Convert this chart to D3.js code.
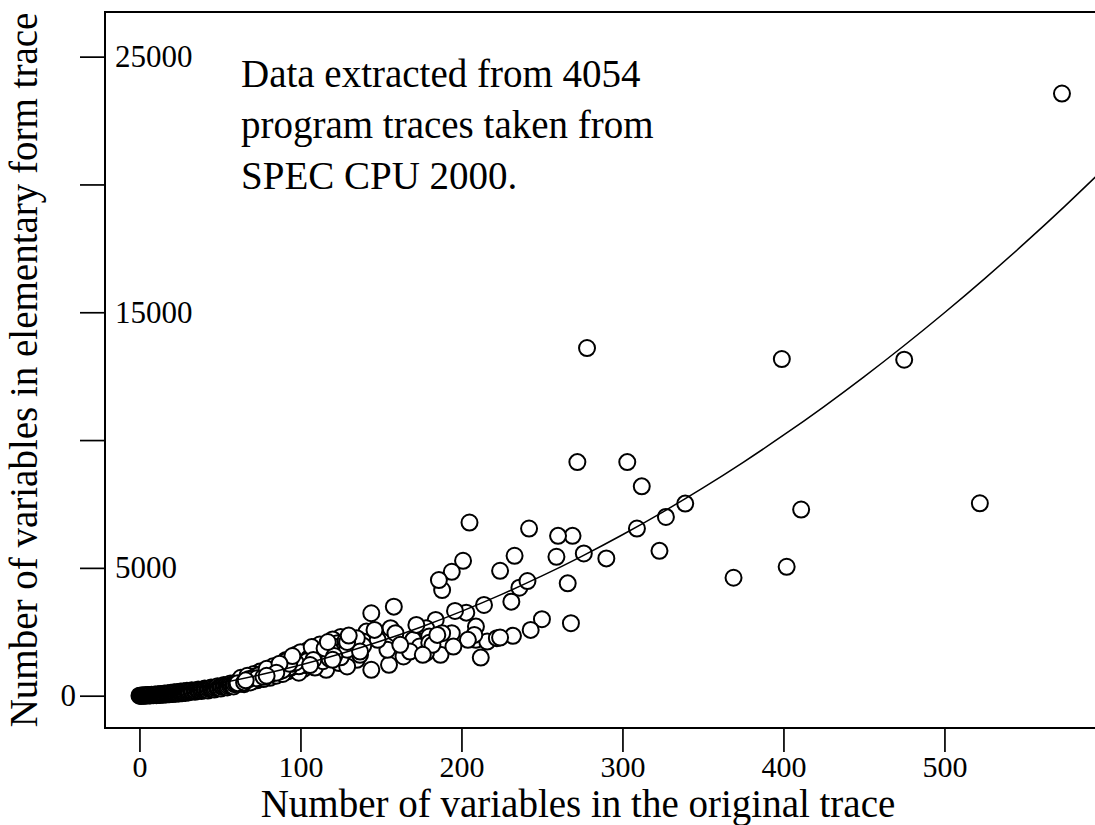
<!DOCTYPE html>
<html>
<head>
<meta charset="utf-8">
<script src="https://cdn.jsdelivr.net/npm/d3@7"></script>
<style>
  body { margin: 0; background: #fff; }
  svg { display: block; font-family: 'Liberation Serif', 'Times New Roman', serif; }
</style>
</head>
<body>
<script>
// each trace: variables in the original trace vs. variables in elementary form
const origVars = [
  0, 1, 2, 3, 4, 5, 6, 7, 8, 9, 10, 11, 12, 13, 14, 15, 16, 17, 18, 19, 20,
  21, 22, 23, 24, 25, 26, 27, 28, 29, 30, 31, 32, 33, 34, 35, 36, 37, 38, 39, 40,
  41, 42, 43, 44, 45, 46, 47, 48, 49, 50, 51, 52, 53, 54, 55, 56, 57, 58, 59, 60,
  0.5, 1.5, 2.5, 3.5, 4.5, 5.5, 6.5, 7.5, 8.5, 9.5, 10.5, 11.5, 12.5, 13.5, 14.5, 15.5,
  16.5, 17.5, 18.5, 19.5, 20.5, 21.5, 22.5, 23.5, 24.5, 25.5, 26.5, 27.5, 28.5, 29.5, 30.5,
  32.5, 34.5, 36.5, 38.5, 40.5, 42.5, 44.5, 46.5, 48.5, 50.5, 52.5, 54.5, 56.5, 58.5, 60.5,
  61, 62, 63, 64, 65, 66, 67, 68, 69, 70, 71, 72, 73, 74, 75, 76, 77, 78, 79, 80,
  63, 65, 67, 69, 71, 73, 75, 77, 79, 81, 83, 85, 87, 89,
  81, 82, 83, 84, 85, 86, 87, 88, 89, 90, 91, 92, 93, 94, 95, 96, 97, 98, 99, 100,
  91, 93, 95, 97, 99, 101, 103, 105, 107, 109, 111, 113, 115, 117, 119,
  101, 102, 103, 104, 105, 106, 107, 108, 109, 110, 111, 112, 113, 114, 115, 116,
  117, 118, 119, 120, 121, 122, 123, 124, 125, 126, 127, 128, 129, 130,
  121, 123, 125, 127, 129, 131, 133, 135, 137, 139,
  116, 116, 120, 124, 124, 129, 135, 137, 139, 141, 144, 144, 146, 148, 154, 155,
  156, 158, 159, 162, 164, 168, 170, 172, 174, 176, 178, 178, 180, 180, 182, 184,
  185, 186, 187, 188, 188, 194, 194, 195, 196, 203, 204, 208, 209, 209, 212, 214,
  216, 222, 224, 201, 205, 224, 231, 232, 233, 236, 241, 242, 243, 250, 259, 260,
  266, 268, 269, 276, 290, 272, 278, 303, 312, 309, 323, 327, 339, 369, 399, 402,
  411, 475, 522, 573
];
const elemVars = [
  0, 2, 5, 8, 12, 15, 18, 22, 26, 30, 35, 40, 44, 48, 53, 58, 63, 68, 74, 80, 86,
  92, 98, 104, 110, 117, 124, 131, 138, 146, 154, 160, 175, 170, 190, 185, 205, 200, 220, 230, 225,
  250, 245, 265, 275, 270, 295, 300, 320, 310, 340, 355, 345, 375, 390, 380, 410, 430, 420, 450, 470,
  0, 10, 0, 15, 5, 25, 10, 35, 15, 45, 20, 55, 30, 70, 35, 85,
  45, 100, 55, 115, 65, 130, 75, 145, 85, 160, 95, 175, 110, 190, 125,
  210, 150, 240, 180, 280, 200, 320, 240, 370, 280, 420, 320, 480, 360, 540,
  490, 530, 470, 560, 520, 600, 540, 650, 580, 700, 620, 760, 680, 800, 700, 850, 740, 900, 780, 960,
  700, 450, 780, 520, 850, 600, 950, 650, 1050, 700, 1150, 780, 1250, 850,
  820, 1000, 870, 1060, 900, 1100, 950, 1150, 1000, 1200, 1400, 950, 1250, 1100, 1550, 1000, 1300, 1450, 1150, 1700,
  1350, 1100, 1250, 1600, 900, 1500, 1200, 1450, 1900, 1100, 1550, 1800, 1250, 1650, 1950,
  1250, 1050, 1500, 1350, 1800, 1200, 1600, 1400, 1900, 1300, 1700, 2000, 1500, 1350, 1850, 1600,
  2100, 1450, 1750, 2200, 1550, 1900, 2050, 1700, 2300, 1600, 2000, 2150, 1800, 2350,
  1350, 1750, 1500, 1850, 2100, 1450, 1900, 2250, 1600, 1950,
  1443, 1014, 1404, 1275, 1794, 1143, 1404, 1728, 2118, 2508, 3225, 1014, 2574, 2184, 1794, 1209,
  2640, 3483, 2445, 1989, 1533, 1728, 2184, 2769, 1923, 1599, 2640, 1677, 2313, 2067, 1989, 2964,
  2379, 4524, 1599, 2445, 4134, 2445, 4848, 1923, 3315, 3249, 2184, 2379, 2184, 2703, 1490, 3549,
  2118, 2250, 2274, 5277, 6774, 4887, 3678, 2340, 5472, 4224, 4485, 6540, 2574, 2991, 5433, 6252,
  4395, 2835, 6252, 5565, 5370, 9138, 13599, 9138, 8190, 6540, 5667, 6993, 7515, 4614, 13170, 5043,
  7281, 13143, 7527, 23556
];

// fitted curve
const fitX = [0, 25, 50, 75, 100, 125, 150, 175, 200, 225, 250, 275, 300, 325, 350, 375, 400, 425, 450, 475, 500, 525, 550, 575, 600];
const fitY = [0, 216, 488, 816, 1201, 1641, 2138, 2690, 3299, 3964, 4685, 5462, 6295, 7184, 8130, 9131, 10189, 11302, 12472, 13698, 14980, 16318, 17712, 19162, 20669];

const xTicks = [0, 100, 200, 300, 400, 500];
const yTicks = [0, 5000, 10000, 15000, 20000, 25000];
const yLabelled = [0, 5000, 15000, 25000];
const noteLines = ['Data extracted from 4054', 'program traces taken from', 'SPEC CPU 2000.'];

const width = 1095;
const height = 825;
const box = { left: 105, top: 12, right: 1099, bottom: 728 };
const serif = "'Liberation Serif', 'Times New Roman', serif";

const svg = d3
  .select('body')
  .append('svg')
  .attr('width', width)
  .attr('height', height);

const x = d3.scaleLinear().domain([-21.4, 596]).range([box.left, box.right]);
const y = d3.scaleLinear().domain([-1264, 26746]).range([box.bottom, box.top]);

svg
  .append('clipPath')
  .attr('id', 'plot-clip')
  .append('rect')
  .attr('x', box.left)
  .attr('y', box.top)
  .attr('width', box.right - box.left)
  .attr('height', box.bottom - box.top);

const yAxis = svg
  .append('g')
  .attr('transform', `translate(${box.left},0)`)
  .call(
    d3
      .axisLeft(y)
      .tickValues(yTicks)
      .tickSize(25)
      .tickPadding(4)
      .tickFormat(d => (yLabelled.includes(d) ? d : ''))
  )
  .attr('font-family', serif)
  .attr('font-size', 31);
yAxis.select('.domain').remove();
yAxis.selectAll('line').attr('stroke', '#000').attr('stroke-width', 1.7);
yAxis
  .selectAll('text')
  .attr('fill', '#000')
  .filter(d => d !== 0)
  .attr('x', 10)
  .attr('text-anchor', 'start');

const xAxis = svg
  .append('g')
  .attr('transform', `translate(0,${box.bottom})`)
  .call(d3.axisBottom(x).tickValues(xTicks).tickSize(24).tickPadding(4))
  .attr('font-family', serif)
  .attr('font-size', 30);
xAxis.select('.domain').remove();
xAxis.selectAll('line').attr('stroke', '#000').attr('stroke-width', 1.7);
xAxis.selectAll('text').attr('fill', '#000');

// the crowded low end goes first, left to right, so it merges into a dark band;
// the rest is drawn in a fixed mixed order, as the traces are unsorted
const byX = d3.range(origVars.length).sort((a, b) => origVars[a] - origVars[b]);
const lowEnd = byX.filter(i => origVars[i] <= 60.5);
const rest = d3.shuffler(d3.randomLcg(0.42))(byX.filter(i => origVars[i] > 60.5));
const drawOrder = lowEnd.concat(rest);

const plot = svg.append('g').attr('clip-path', 'url(#plot-clip)');

plot
  .selectAll('.dot')
  .data(drawOrder)
  .enter()
  .append('circle')
  .attr('class', 'dot')
  .attr('cx', i => x(origVars[i]))
  .attr('cy', i => y(elemVars[i]))
  .attr('r', 8)
  .attr('fill', '#fff')
  .attr('stroke', '#000')
  .attr('stroke-width', 2);

plot
  .append('path')
  .datum(fitX)
  .attr('fill', 'none')
  .attr('stroke', '#000')
  .attr('stroke-width', 1.5)
  .attr(
    'd',
    d3
      .line()
      .x(d => x(d))
      .y((d, i) => y(fitY[i]))
      .curve(d3.curveNatural)
  );

svg
  .append('rect')
  .attr('x', box.left)
  .attr('y', box.top)
  .attr('width', box.right - box.left)
  .attr('height', box.bottom - box.top)
  .attr('fill', 'none')
  .attr('stroke', '#000')
  .attr('stroke-width', 2);

svg
  .append('text')
  .attr('x', 578)
  .attr('y', 817)
  .attr('text-anchor', 'middle')
  .style('font-size', '39px')
  .text('Number of variables in the original trace');

svg
  .append('text')
  .attr('transform', `translate(37,370) rotate(-90)`)
  .attr('text-anchor', 'middle')
  .style('font-size', '39px')
  .text('Number of variables in elementary form trace');

svg
  .append('g')
  .selectAll('text')
  .data(noteLines)
  .enter()
  .append('text')
  .attr('x', 241)
  .attr('y', (d, i) => 87 + i * 51)
  .style('font-size', '39px')
  .text(d => d);
</script>
</body>
</html>
